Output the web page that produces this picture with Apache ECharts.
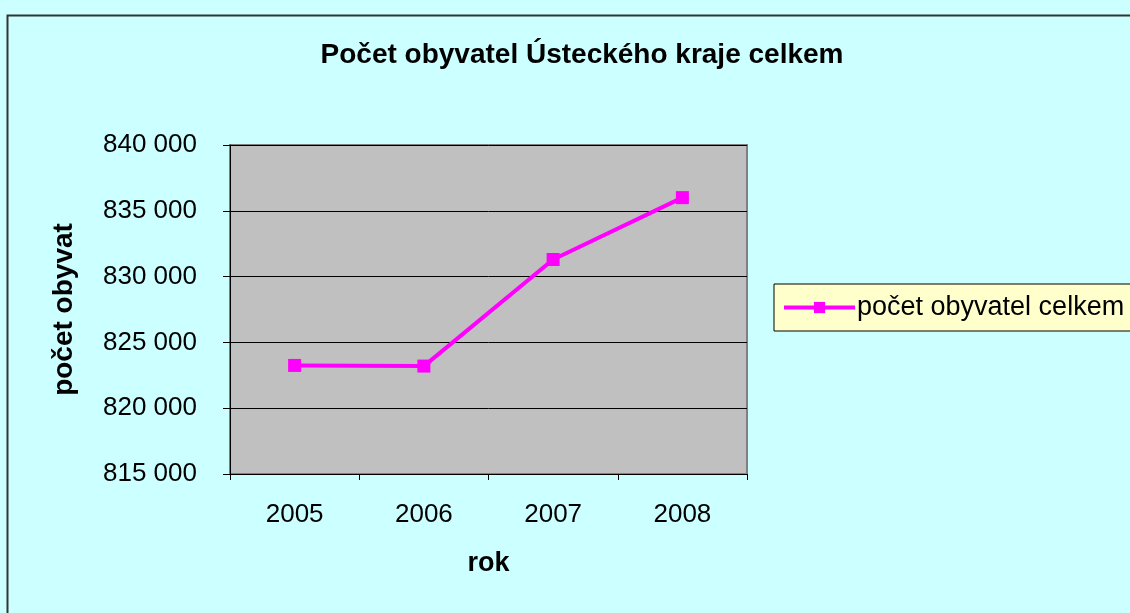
<!DOCTYPE html>
<html>
<head>
<meta charset="utf-8">
<script src="https://cdn.jsdelivr.net/npm/echarts@6/dist/echarts.min.js"></script>
<style>
html,body{margin:0;padding:0;background:#CCFFFF;}
#chart{width:1130px;height:613px;}
</style>
</head>
<body>
<div id="chart"></div>
<script>
const titleText = 'Počet obyvatel Ústeckého kraje celkem';
const categories = ['2005', '2006', '2007', '2008'];
const seriesName = 'počet obyvatel celkem';
const values = [823250, 823200, 831300, 836000];
const yMin = 815000, yMax = 840000, yStep = 5000;
const xAxisName = 'rok';
const yAxisName = 'počet obyvat';

const chart = echarts.init(document.getElementById('chart'), null, {renderer: 'canvas'});
const fmt = v => String(v).replace(/\B(?=(\d{3})+(?!\d))/g, ' ');
const font = 'Liberation Sans, Arial, sans-serif';

chart.setOption({
  backgroundColor: '#CCFFFF',
  animation: false,
  textStyle: {fontFamily: font},
  title: {
    text: titleText,
    left: 577, top: 36, textAlign: 'center',
    textStyle: {fontFamily: font, fontSize: 28, fontWeight: 'bold', color: '#000'}
  },
  graphic: [{
    type: 'rect', z: 100, silent: true,
    shape: {x: 7.5, y: 15.5, width: 1300, height: 800},
    style: {fill: 'none', stroke: '#333333', lineWidth: 2}
  }],
  legend: {
    left: 774, top: 284,
    orient: 'horizontal',
    backgroundColor: '#FFFFCC',
    borderColor: '#000', borderWidth: 1,
    padding: [10, 8, 10, 8],
    itemWidth: 71, itemHeight: 14, itemGap: 4,
    lineStyle: {width: 4},
    textStyle: {fontFamily: font, fontSize: 27, color: '#000', padding: [0,0,0,-3]},
    data: [seriesName]
  },
  grid: {
    left: 230, right: 383, top: 145, bottom: 139,
    show: true, backgroundColor: '#C0C0C0', borderColor: '#808080', borderWidth: 2
  },
  xAxis: {
    type: 'category', data: categories, boundaryGap: true,
    name: xAxisName, nameLocation: 'middle', nameGap: 76,
    nameTextStyle: {fontFamily: font, fontSize: 27, fontWeight: 'bold', color: '#000'},
    axisLine: {lineStyle: {color: '#000', width: 1}},
    axisTick: {show: true, inside: false, length: 6, alignWithLabel: false, lineStyle: {color: '#000'}},
    axisLabel: {fontFamily: font, fontSize: 26, color: '#000', margin: 28},
    splitLine: {show: false}
  },
  yAxis: {
    type: 'value', min: yMin, max: yMax, interval: yStep,
    name: yAxisName, nameLocation: 'middle', nameGap: 152, nameRotate: 90,
    nameTextStyle: {fontFamily: font, fontSize: 28, fontWeight: 'bold', color: '#000'},
    axisLine: {show: true, lineStyle: {color: '#000', width: 1}},
    axisTick: {show: true, inside: false, length: 7, lineStyle: {color: '#000'}},
    axisLabel: {fontFamily: font, fontSize: 26, color: '#000', margin: 33, formatter: fmt},
    splitLine: {show: true, lineStyle: {color: '#000', width: 1}}
  },
  series: [{
    name: seriesName, type: 'line', data: values,
    symbol: 'rect', symbolSize: 13,
    lineStyle: {color: '#FF00FF', width: 4},
    itemStyle: {color: '#FF00FF'}
  }]
});
</script>
</body>
</html>
